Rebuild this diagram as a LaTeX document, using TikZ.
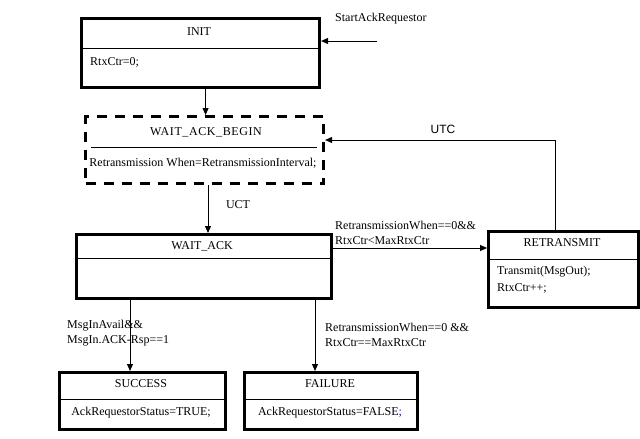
\documentclass[tikz,border=0pt]{standalone}
\usepackage{fontspec}
\setmainfont{Liberation Serif}
\newfontfamily\sansfont{Liberation Sans}
\usetikzlibrary{arrows.meta}
\begin{document}
\begin{tikzpicture}[x=1pt,y=-1pt,
  font=\fontsize{12}{14.5}\selectfont,
  box/.style={draw, line width=3.1pt, inner sep=0pt, anchor=north west},
  dbox/.style={box, dash pattern=on 10pt off 8pt},
  sep/.style={line width=0.8pt},
  conn/.style={line width=0.9pt, -{Triangle[length=7pt,width=6pt]}},
  txt/.style={inner sep=0pt},
  lbl/.style={inner sep=0pt, align=left, anchor=north west}]
\useasboundingbox (0,0) rectangle (640,439);

% INIT
\node[box, minimum width=238pt, minimum height=69pt] (init) at (80,17) {};
\draw[sep] (init.west |- 0,48) -- (init.east |- 0,48);
\node[txt] (initT) at (199,32) {INIT};
\node[txt, anchor=west] (initB) at (90,62) {RtxCtr=0;};

% WAIT_ACK_BEGIN
\node[dbox, minimum width=238pt, minimum height=67pt] (wab) at (84,115) {};
\draw[sep] (91,147) -- (317,147);
\node[txt] (wabT) at (206,132) {\addfontfeature{LetterSpace=5}WAIT\_ACK\_BEGIN};
\node[txt] (wabB) at (203,163) {Retransmission When=RetransmissionInterval;};

% WAIT_ACK
\node[box, minimum width=255pt, minimum height=64pt] (wa) at (75,233) {};
\draw[sep] (wa.west |- 0,258) -- (wa.east |- 0,258);
\node[txt] (waT) at (202,246) {WAIT\_ACK};

% RETRANSMIT
\node[box, minimum width=150pt, minimum height=76pt] (rt) at (487,230) {};
\draw[sep] (rt.west |- 0,259) -- (rt.east |- 0,259);
\node[txt] (rtT) at (562,243) {RETRANSMIT};
\node[txt, anchor=west] (rtB1) at (497,272) {Transmit(MsgOut);};
\node[txt, anchor=west] (rtB2) at (497,288) {RtxCtr++;};

% SUCCESS
\node[box, minimum width=166pt, minimum height=57pt] (su) at (58,371) {};
\draw[sep] (su.west |- 0,399) -- (su.east |- 0,399);
\node[txt] (suT) at (141,384) {SUCCESS};
\node[txt] (suB) at (141,413) {AckRequestorStatus=TRUE;};

% FAILURE
\node[box, minimum width=173pt, minimum height=57pt] (fa) at (243,371) {};
\draw[sep] (fa.west |- 0,399) -- (fa.east |- 0,399);
\node[txt] (faT) at (330,384) {FAILURE};
\node[txt] (faB) at (330,413) {AckRequestorStatus=FALSE\textcolor{blue}{;}};

% connectors
\coordinate (start) at (377,41);
\node[lbl] (startL) at (335,13) {StartAckRequestor};
\draw[conn] (start) -- (init.east |- start);

\draw[conn] ([xshift=5pt]init.south) -- ([xshift=1pt]wab.north);

\draw[conn] (wab.south -| 208,0) -- (wa.north -| 208,0);
\node[txt] (uct) at (238,205) {UCT};

\coordinate (bend) at (555,140);
\draw[conn] (rt.north -| bend) -- (bend) -- (wab.east |- bend);
\node[txt] (utc) at (443,129) {\sansfont UTC};

\draw[conn] (wa.east |- 0,248) -- (rt.west |- 0,248);
\node[lbl] (rtL) at (335,221) {RetransmissionWhen==0\&\&\\RtxCtr<MaxRtxCtr};

\draw[conn] (wa.south -| 130,0) -- (su.north -| 130,0);
\node[lbl] (suL) at (67,320) {MsgInAvail\&\&\\MsgIn.ACK-Rsp==1};

\draw[conn] (wa.south -| 315,0) -- (fa.north -| 315,0);
\node[lbl] (faL) at (325,323) {RetransmissionWhen==0 \&\&\\RtxCtr==MaxRtxCtr};
\end{tikzpicture}
\end{document}
